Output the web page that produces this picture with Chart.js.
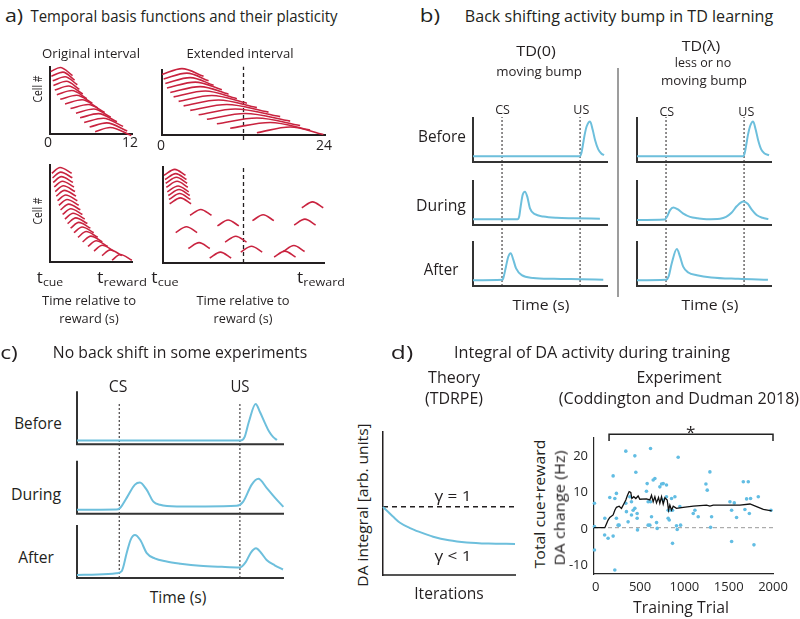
<!DOCTYPE html>
<html>
<head>
<meta charset="utf-8">
<title>TD learning figure</title>
<script src="https://cdn.jsdelivr.net/npm/chart.js@4.4.1/dist/chart.umd.min.js"></script>
<style>
  html, body { margin: 0; padding: 0; background: #fff; }
  body { position: relative; width: 800px; height: 619px; overflow: hidden; font-family: "Open Sans", "Noto Sans", sans-serif; color: #231f20; }
  canvas { position: absolute; }
  .t { position: absolute; white-space: nowrap; line-height: 1; }
  .t sub { font-size: 0.72em; vertical-align: -0.3em; line-height: 0; }
  .tick { z-index: 5; }
  .sep { position: absolute; left: 617px; top: 68px; width: 2px; height: 229px; background: #9d9d9d; }
</style>
</head>
<body>
<div class="sep"></div>
<script>
// ══════════════════════════════════════
// DATA
// ══════════════════════════════════════

// a) temporal basis functions – one bump per cell: start / peak / stop time (s)
const A_ORIG_TICKS = [0, 12];
const A_EXT_TICKS  = [0, 24];
const A_ORIG_END   = 12;                       // original interval marked in the extended one
const A_CELLS      = [14, 13, 12, 11, 10, 9, 8, 7, 6, 5, 4, 3, 2, 1];

const A_ORIG_START = [0.1, 0.2, 0.4, 0.5, 0.7, 1.0, 1.5, 2.2, 3.0, 3.8, 4.4, 5.0, 5.8, 6.6];
const A_ORIG_PEAK  = [1.5, 1.9, 2.2, 2.4, 2.7, 3.2, 3.9, 4.7, 5.6, 6.4, 7.1, 7.8, 8.3, 8.8];
const A_ORIG_STOP  = [3.3, 3.6, 4.0, 4.3, 4.8, 5.4, 6.2, 7.0, 8.0, 8.9, 9.8, 10.7, 11.3, 11.9];

const A_EXT_START = [0.0, 0.24, 0.49, 0.73, 1.22, 1.71, 2.45, 3.18, 4.16, 5.39, 6.61, 8.08, 10.04, 13.97];
const A_EXT_PEAK  = [2.94, 3.67, 4.16, 4.9, 5.63, 6.37, 7.35, 8.33, 9.55, 10.78, 12.25, 13.97, 15.93, 18.87];
const A_EXT_STOP  = [6.12, 6.86, 7.6, 8.82, 9.8, 11.03, 12.5, 13.97, 15.68, 17.4, 18.87, 20.34, 21.81, 23.77];

const A_LEARN_ROW   = [19, 18, 17, 16, 15, 14, 13, 12, 11, 10, 9, 8, 7, 6, 5, 4, 3, 2, 1, 0];
const A_LEARN_START = [0.27, 0.37, 0.46, 0.61, 0.76, 0.91, 1.1, 1.3, 1.54, 1.84, 2.18, 2.57, 3.01, 3.5, 4.09, 4.77, 5.55, 6.44, 7.61, 9.08];
const A_LEARN_PEAK  = [1.47, 1.57, 1.66, 1.81, 1.96, 2.11, 2.3, 2.5, 2.74, 3.04, 3.38, 3.77, 4.21, 4.7, 5.29, 5.97, 6.75, 7.64, 8.81, 10.28];
const A_LEARN_STOP  = [3.17, 3.27, 3.36, 3.51, 3.66, 3.81, 4.0, 4.2, 4.44, 4.74, 5.08, 5.47, 5.91, 6.4, 6.99, 7.67, 8.45, 9.34, 10.51, 11.98];

const A_REMAP_ROW   = [18.98, 18.03, 17.22, 16.34, 15.31, 14.52, 13.64, 12.68, 11.8, 10.13, 8.95, 7.79, 8.0, 6.31, 4.21, 2.8, 2.01, 2.15, 0.92, 0.7];
const A_REMAP_START = [0.15, 0.3, 0.4, 0.5, 0.64, 0.79, 0.89, 0.99, 20.69, 4.03, 13.33, 8.11, 19.55, 1.89, 9.25, 3.78, 11.59, 17.91, 16.56, 6.96];
const A_REMAP_PEAK  = [1.75, 1.9, 2.0, 2.1, 2.24, 2.39, 2.49, 2.59, 22.29, 5.63, 14.93, 9.71, 21.15, 3.49, 10.85, 5.38, 13.19, 19.51, 18.16, 8.56];
const A_REMAP_STOP  = [3.35, 3.5, 3.6, 3.7, 3.84, 3.99, 4.09, 4.19, 23.89, 7.23, 16.53, 11.31, 22.75, 5.09, 12.45, 6.98, 14.79, 21.11, 19.76, 10.16];

// b) TD activity, [time % of window, activity] per stage (Before, During, After)
const B_CS = 21.5, B_US = 79.3;
const B_ROW_BASE = [2.756, 1.356, 0];
const B_TD0_BEFORE = [[0,.13],[79,.13],[80.3,.2],[81.3,.36],[82.8,.62],[84.3,.8],[86.7,.9],[88.7,.71],[90.4,.49],[92.8,.28],[95,.19],[97,.15]];
const B_TD0_DURING = [[0,.127],[33,.13],[34.3,.2],[35.3,.41],[36.8,.67],[38.5,.74],[40.2,.63],[42.2,.37],[45.9,.24],[52.1,.19],[62,.16],[74.3,.15],[94,.14]];
const B_TD0_AFTER  = [[0,.13],[21.8,.14],[22.4,.17],[24.4,.43],[26.1,.65],[27.9,.73],[29.9,.58],[31.9,.39],[36.1,.24],[44.7,.18],[60,.16],[80,.15],[96.5,.14]];
const B_TDL_BEFORE = [[0,.13],[78.5,.13],[79.8,.2],[80.8,.36],[82.3,.62],[83.8,.8],[86,.9],[88,.71],[89.7,.49],[92,.28],[94.5,.19],[97.8,.15]];
const B_TDL_DURING = [[0,.11],[20.5,.12],[22.5,.2],[24.5,.33],[26.9,.39],[30,.35],[34,.26],[39.3,.18],[45,.15],[51.6,.13],[61.5,.14],[66,.18],[70,.27],[74,.42],[78.8,.52],[82,.47],[85,.34],[88.6,.22],[93,.16],[97.3,.13]];
const B_TDL_AFTER  = [[0,.13],[21.5,.14],[23.5,.22],[25.7,.5],[29.5,.82],[31.8,.66],[34.2,.43],[38,.3],[44.4,.24],[55,.19],[75,.16],[97,.14]];

// c) experiments without back shift
const C_CS = 20.4, C_US = 78.7;
const C_ROW_BASE = [2.52, 1.21, 0];
const C_BEFORE = [[0,.07],[79,.07],[81,.14],[83,.42],[86.3,.76],[88.5,.6],[90.8,.4],[92.8,.24],[94.7,.14],[96.6,.08]];
const C_DURING = [[0,.075],[19,.08],[20.8,.11],[24,.3],[28,.55],[30.4,.59],[33.7,.45],[36.9,.23],[40.1,.17],[48.2,.14],[62,.14],[77.1,.15],[80.3,.23],[84.4,.55],[87.6,.66],[91.6,.49],[95.7,.3],[99.7,.13]];
const C_AFTER  = [[0,.057],[10,.065],[19,.09],[21.6,.13],[24,.47],[25.9,.72],[28,.81],[30.5,.72],[33.7,.47],[37.5,.37],[43.3,.31],[50,.27],[59.4,.23],[70,.21],[78.7,.2],[81.5,.3],[84,.48],[86.5,.56],[88.8,.48],[91.6,.34],[95.5,.24],[99.5,.16]];

// d) theory: DA integral over iterations
const D_ITER     = [0, 4, 8, 12.9, 20, 28, 38, 50, 63.4, 80, 100];
const D_INTEGRAL = [.475, .44, .405, .365, .33, .3, .268, .243, .228, .22, .217];
const D_GAMMA1   = 0.478;

// d) experiment (Coddington and Dudman 2018)
const D_TRIAL_TICKS = [0, 500, 1000, 1500, 2000];
const D_HZ_TICKS    = [20, 10, 0, -10];
const D_DOT_TRIAL = [-15,-15,-15,102,100,139,158,196,196,215,215,233,233,252,264,339,339,346,365,384,403,403,422,441,441,452,467,467,471,572,580,591,591,610,618,618,629,648,667,686,693,723,742,761,761,798,798,817,817,829,836,855,866,866,893,911,919,930,949,957,1100,1119,1156,1243,1258,1288,1296,1307,1514,1533,1533,1563,1589,1665,1683,1702,1721,1733,1747,1785,1834,1977];
const D_DOT_HZ    = [6.7,0.3,-6.1,2.6,-2.0,-2.9,8.3,14.2,-2.3,8.0,-11.6,9.4,2.6,0.7,0.7,21.0,6.7,4.4,1.6,8.5,7.1,3.5,4.8,19.7,5.3,15.2,2.6,3.9,-0.6,10.0,12.1,7.1,0.7,0.7,21.7,7.1,3.0,13.1,13.5,1.4,-0.2,11.2,12.0,12.1,7.6,11.7,8.5,4.8,2.6,2.1,4.8,8.0,-4.3,4.8,8.5,0.5,-0.5,19.3,5.8,0.7,3.9,4.8,3.0,12.0,10.3,15.3,0.1,3.0,7.1,4.8,-3.8,6.8,2.8,12.6,5.0,7.9,12.6,3.9,8.0,-4.7,8.5,4.8];
const D_MEAN_TRIAL = [-19,102,120,139,158,196,215,233,264,290,316,339,358,377,395,407,429,452,478,497,572,610,629,648,667,685,708,723,742,761,780,806,821,836,855,874,911,987,1100,1250,1288,1326,1627,1740,1815,1891,1985];
const D_MEAN_HZ    = [0,0,1.0,2.1,2.8,3.5,4.8,5.6,5.9,5.3,6.5,7.6,8.9,9.9,9.7,8.0,8.5,8.0,8.7,7.8,7.9,7.6,8.9,7.1,8.5,6.8,8.3,6.7,8.5,6.5,8.2,7.6,4.8,6.2,4.8,5.9,5.3,5.6,5.9,6.2,5.9,6.2,6.2,6.5,5.8,5.0,4.6];
const D_SIG_FROM = 150, D_SIG_TO = 2000;

// ══════════════════════════════════════
// HELPERS
// ══════════════════════════════════════
const FONT = '"Open Sans", "Noto Sans", sans-serif';
const INK = '#231f20', RED = '#c9233f', BLUE = '#6dbfdc', DOT = '#62bde3';
Chart.defaults.font.family = FONT;
Chart.defaults.color = INK;

// box = chart area in page px; room = space kept for tick labels (left / bottom)
function plot(box, pad, cfg, room = {}) {
  const [l, t, r, b] = box.map(Math.round);
  const c = document.createElement('canvas');
  const w = r - l + pad * 2, h = b - t + pad * 2;
  c.width = w; c.height = h;
  c.style.cssText = `left:${l - pad}px;top:${t - pad}px;width:${w}px;height:${h}px`;
  document.body.appendChild(c);
  cfg.options = Object.assign({
    responsive: false, animation: false, devicePixelRatio: 1,
    layout: { padding: { top: pad, right: pad, left: pad - (room.left || 0), bottom: pad - (room.bottom || 0) } },
    plugins: { legend: { display: false }, tooltip: { enabled: false } },
    elements: { point: { radius: 0 } },
  }, cfg.options);
  return new Chart(c, cfg);
}

function scale(min, max, o = {}) {
  const s = {
    type: 'linear', min, max,
    display: !!o.axis,
    grid: { display: false, drawTicks: false },
    border: { display: !!o.axis, color: o.color || INK, width: o.width || 2 },
    ticks: { display: false },
    afterFit: sc => { if (sc.isHorizontal()) sc.height = o.room || 0; else sc.width = o.room || 0; },
  };
  if (o.ticks) {
    s.afterBuildTicks = sc => { sc.ticks = o.ticks.map(v => ({ value: v })); };
    s.ticks = { display: true, font: { size: o.size || 13 }, color: o.color || INK, padding: o.pad || 3,
                maxRotation: 0, autoSkip: false, labelOffset: o.offset || 0, callback: v => String(v) };
  }
  return s;
}

function line(points, color, width, extra) {
  return Object.assign({ data: points, borderColor: color, borderWidth: width, pointRadius: 0,
                         fill: false, clip: false, tension: 0 }, extra);
}
const SMOOTH = { cubicInterpolationMode: 'monotone' };
const pairs = (xs, ys) => xs.map((x, i) => ({ x, y: ys[i] }));

function bumps(start, peak, stop, rows, amp, drop) {
  return rows.map((r, i) => line(
    [{ x: start[i], y: r }, { x: peak[i], y: r + amp }, { x: stop[i], y: r - drop }], RED, 1.6, SMOOTH));
}

// text: centred on (cx, cy) unless align = 'right' (then cx is the right edge)
function text(html, cx, cy, size, width, rot, align, cls) {
  const d = document.createElement('div');
  d.className = 't' + (cls ? ' ' + cls : '');
  d.innerHTML = html;
  d.style.fontSize = size + 'px';
  d.style.left = cx + 'px';
  d.style.top = cy + 'px';
  document.body.appendChild(d);
  const k = width ? width / d.offsetWidth : 1;
  const shift = align === 'right' ? 'translate(-100%,-50%)' : 'translate(-50%,-50%)';
  d.style.transform = `${shift}${rot ? ' rotate(-90deg)' : ''} scaleX(${k.toFixed(3)})`;
  return d;
}

// ══════════════════════════════════════
// a) basis functions
// ══════════════════════════════════════
plot([50, 67, 132, 134], 20, {
  type: 'line',
  data: { datasets: bumps(A_ORIG_START, A_ORIG_PEAK, A_ORIG_STOP, A_CELLS, 0.9, 0.85) },
  options: { scales: { x: scale(0, 12, { axis: true, ticks: A_ORIG_TICKS, size: 14, pad: 1, offset: -2, room: 20 }),
                       y: scale(0.5, 15, { axis: true }) } },
}, { bottom: 20 });

plot([162, 70, 325, 135], 20, {
  type: 'line',
  data: { datasets: [
    ...bumps(A_EXT_START, A_EXT_PEAK, A_EXT_STOP, A_CELLS, 1.3, 0.4),
    line([{ x: A_ORIG_END, y: -0.62 }, { x: A_ORIG_END, y: 15.75 }], INK, 1.3, { borderDash: [4, 3] }),
  ] },
  options: { scales: { x: scale(0, 24, { axis: true, ticks: A_EXT_TICKS, size: 14, pad: 0, offset: -1, room: 20 }),
                       y: scale(0.5, 15, { axis: true }) } },
}, { bottom: 20 });

plot([50, 165, 132, 262], 16, {
  type: 'line',
  data: { datasets: bumps(A_LEARN_START, A_LEARN_PEAK, A_LEARN_STOP, A_LEARN_ROW, 1.25, 0) },
  options: { scales: { x: scale(0, 12, { axis: true }), y: scale(-0.4, 20.8, { axis: true }) } },
});

plot([163, 167, 324, 263], 16, {
  type: 'line',
  data: { datasets: [
    ...bumps(A_REMAP_START, A_REMAP_PEAK, A_REMAP_STOP, A_REMAP_ROW, 1.3, 0),
    line([{ x: A_ORIG_END, y: -0.4 }, { x: A_ORIG_END, y: 20.8 }], INK, 1.3, { borderDash: [4, 3] }),
  ] },
  options: { scales: { x: scale(0, 24, { axis: true }), y: scale(-0.4, 20.8, { axis: true }) } },
});

// ══════════════════════════════════════
// b) / c) stacked activity traces, one chart per column
// ══════════════════════════════════════
function column(box, traces, bases, cs, us, dashTop, ymax) {
  const ds = [];
  traces.forEach((tr, i) => ds.push(line(tr.map(([x, y]) => ({ x, y: y + bases[i] })), BLUE, 2, SMOOTH)));
  bases.forEach(b0 => ds.push(line([{ x: 0, y: b0 + 1 }, { x: 0, y: b0 }, { x: 100, y: b0 }], '#333', 2)));
  [cs, us].forEach(x => ds.push(line([{ x, y: 0 }, { x, y: dashTop }], INK, 1, { borderDash: [2, 2] })));
  plot(box, 8, { type: 'line', data: { datasets: ds },
                 options: { scales: { x: scale(0, 100), y: scale(0, ymax) } } });
}

column([473, 115, 608, 286], [B_TD0_BEFORE, B_TD0_DURING, B_TD0_AFTER], B_ROW_BASE, B_CS, B_US, 3.756, 3.8);
column([637, 115, 772, 286], [B_TDL_BEFORE, B_TDL_DURING, B_TDL_AFTER], B_ROW_BASE, B_CS, B_US, 3.756, 3.8);
column([77, 387, 284, 578], [C_BEFORE, C_DURING, C_AFTER], C_ROW_BASE, C_CS, C_US, 3.30, 3.6);

// ══════════════════════════════════════
// d) integral of DA activity
// ══════════════════════════════════════
plot([383, 432, 515, 575], 10, {
  type: 'line',
  data: { datasets: [
    line(pairs(D_ITER, D_INTEGRAL), BLUE, 2, SMOOTH),
    line([{ x: 0, y: D_GAMMA1 }, { x: 100, y: D_GAMMA1 }], INK, 1.5, { borderDash: [5, 4] }),
  ] },
  options: { scales: { x: scale(0, 100, { axis: true, color: '#555', width: 2 }),
                       y: scale(0, 1, { axis: true, width: 1.5 }) } },
});

const expChart = plot([594, 438, 773, 574], 32, {
  type: 'line',
  data: { datasets: [
    line(pairs(D_MEAN_TRIAL, D_MEAN_HZ), '#111', 1.3),
    line(pairs(D_DOT_TRIAL, D_DOT_HZ), DOT, 0, { showLine: false, pointRadius: 1.8,
         pointBackgroundColor: DOT, pointBorderWidth: 0 }),
    line([{ x: -20, y: 0 }, { x: 2000, y: 0 }], '#999', 1, { borderDash: [4, 3] }),
    line([{ x: D_SIG_FROM, y: 23.8 }, { x: D_SIG_FROM, y: 25.6 }, { x: D_SIG_TO, y: 25.6 }, { x: D_SIG_TO, y: 23.8 }], '#222', 1.5),
  ] },
  options: { scales: {
    x: scale(-20, 2000, { axis: true, ticks: D_TRIAL_TICKS, size: 13, pad: 5, width: 1.2, color: '#262626', room: 26 }),
    y: scale(-12.7, 24.6, { axis: true, width: 1.2, color: '#262626' }),
  } },
}, { bottom: 26 });

// Hz tick labels, each placed at the pixel the chart's own y scale gives for its value
{
  const ys = expChart.scales.y;
  const r = expChart.canvas.getBoundingClientRect();
  D_HZ_TICKS.forEach(v => {
    const d = text(String(v), r.left + ys.left - 6, r.top + ys.getPixelForValue(v), 13, 0, 0, 'right', 'tick');
    d.style.color = '#262626';
  });
}

// ══════════════════════════════════════
// TEXT  [html, centre x, centre y, font px, target width, rotated]
// ══════════════════════════════════════
const TEXTS = [
  ['a)', 14, 15, 19, 18],
  ['Temporal basis functions and their plasticity', 183.5, 16, 16.5, 307],
  ['Original interval', 90.5, 52.5, 13, 97.6],
  ['Extended interval', 240.3, 52.5, 13, 107],
  ['Cell #', 37, 89, 13, 27, 1],
  ['Cell #', 37, 211, 13, 27, 1],
  ['t<sub>cue</sub>', 50, 277, 16, 26.6],
  ['t<sub>reward</sub>', 121.7, 277, 16, 50],
  ['t<sub>cue</sub>', 164.5, 277, 16, 27.6],
  ['t<sub>reward</sub>', 321, 277, 16, 48],
  ['Time relative to', 88.8, 300, 13, 94.3],
  ['reward (s)', 88.8, 317.5, 13, 59],
  ['Time relative to', 242.7, 300, 13, 93.3],
  ['reward (s)', 242.5, 317.5, 13, 58.4],

  ['b)', 430, 15, 19, 20],
  ['Back shifting activity bump in TD learning', 619, 15.5, 16.5, 308],
  ['TD(0)', 536, 50, 15, 40],
  ['moving bump', 538.8, 71, 13, 85.7],
  ['TD(λ)', 700.8, 45, 15, 38.3],
  ['less or no', 703.3, 62, 13, 56.7],
  ['moving bump', 703.7, 80, 13, 86],
  ['CS', 502.5, 110, 12.5, 15],
  ['US', 581.3, 110, 12.5, 16],
  ['CS', 666.8, 111.7, 12.5, 15],
  ['US', 746.3, 111.7, 12.5, 16],
  ['Before', 442.2, 136.7, 15.5, 47.7],
  ['During', 441, 206, 15.5, 50],
  ['After', 440.8, 270, 15.5, 35],
  ['Time (s)', 541, 304, 15, 56.7],
  ['Time (s)', 710, 304, 15, 56.7],

  ['c)', 9, 352, 19, 18],
  ['No back shift in some experiments', 179.7, 352, 16.5, 254],
  ['CS', 117.5, 387, 15.5, 18.4],
  ['US', 239.7, 387, 15.5, 19.3],
  ['Before', 37.8, 423.3, 16, 47.7],
  ['During', 36.3, 494, 16, 50.7],
  ['After', 36.3, 556.7, 16, 36],
  ['Time (s)', 178.3, 598.3, 15.5, 56.7],

  ['d)', 401.5, 352, 19, 22],
  ['Integral of DA activity during training', 592, 352, 16.5, 275.7],
  ['Theory', 454.2, 378.3, 15.5, 51.7],
  ['(TDRPE)', 453.8, 399, 15.5, 57.7],
  ['Experiment', 679.2, 378.3, 15.5, 85],
  ['(Coddington and Dudman 2018)', 679, 399, 15.5, 240],
  ['γ = 1', 453.3, 495.8, 14, 36.7],
  ['γ &lt; 1', 453.3, 555.8, 14, 36.7],
  ['Iterations', 448.7, 594.2, 15.5, 69.3],
  ['DA integral [arb. units]', 362.5, 505, 14.5, 163.3, 1],
  ['Total cue+reward', 539.7, 503.8, 14.5, 129, 1],
  ['DA change (Hz)', 560.3, 507.5, 14.5, 115, 1],
  ['Training Trial', 680.5, 608.3, 15.5, 95.7],
  ['*', 690.8, 431, 17, 0],
];

TEXTS.forEach(args => text(...args));
</script>
</body>
</html>
